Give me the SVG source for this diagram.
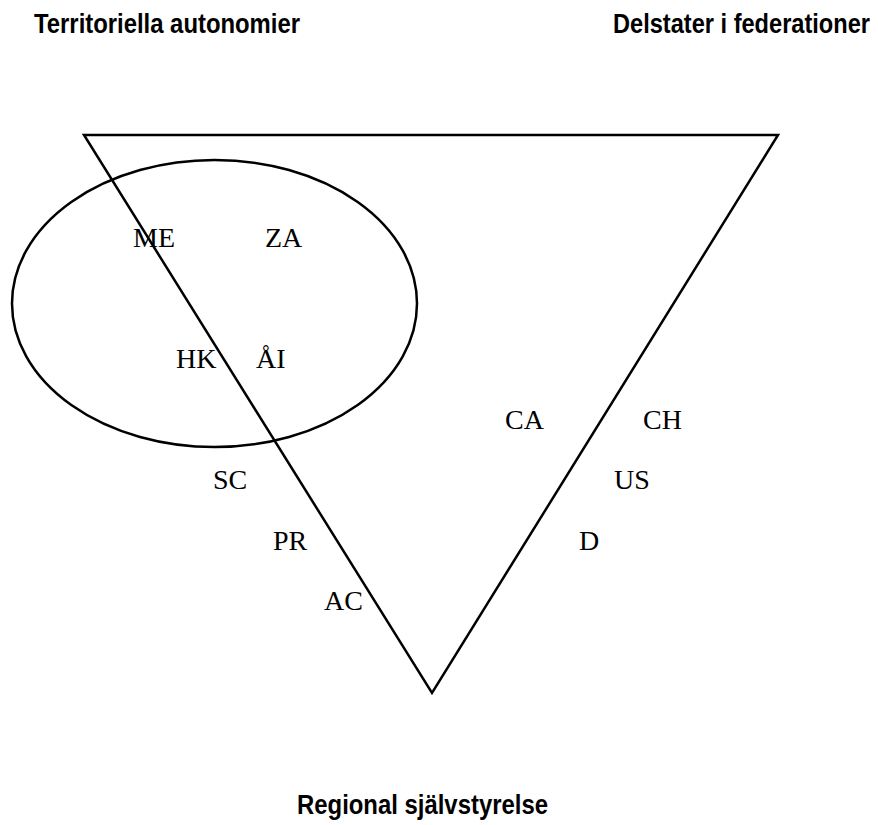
<svg xmlns="http://www.w3.org/2000/svg" width="878" height="825" viewBox="0 0 878 825">
<style>
.t{font-family:"Liberation Sans Narrow","Liberation Sans",Arial,sans-serif;font-weight:bold;font-size:27px;fill:#000}
.l{font-family:"Liberation Serif","Times New Roman",serif;font-size:28px;fill:#000}
.s{fill:none;stroke:#000;stroke-width:2.5}
</style>
<rect width="878" height="825" fill="#fff"/>
<g id="shapes">
<polygon id="triangle" class="s" points="84,135 778,135 432,693" stroke-linejoin="miter"/>
<ellipse id="ellipse" class="s" cx="214.5" cy="303.5" rx="202.5" ry="143.5"/>
</g>
<g id="titles">
<text id="t1" class="t" x="34" y="33" textLength="266" lengthAdjust="spacingAndGlyphs">Territoriella autonomier</text>
<text id="t2" class="t" x="613" y="33" textLength="257" lengthAdjust="spacingAndGlyphs">Delstater i federationer</text>
<text id="t3" class="t" x="297" y="814" textLength="251" lengthAdjust="spacingAndGlyphs">Regional självstyrelse</text>
</g>
<g id="labels">
<text id="ME" class="l" x="133" y="247">ME</text>
<text id="ZA" class="l" x="265" y="247">ZA</text>
<text id="HK" class="l" x="176" y="368">HK</text>
<text id="AI" class="l" x="256" y="368">ÅI</text>
<text id="CA" class="l" x="505" y="429">CA</text>
<text id="CH" class="l" x="643" y="429">CH</text>
<text id="SC" class="l" x="213" y="489">SC</text>
<text id="US" class="l" x="614" y="489">US</text>
<text id="PR" class="l" x="273" y="550">PR</text>
<text id="D" class="l" x="579" y="550">D</text>
<text id="AC" class="l" x="324" y="610">AC</text>
</g>
</svg>
